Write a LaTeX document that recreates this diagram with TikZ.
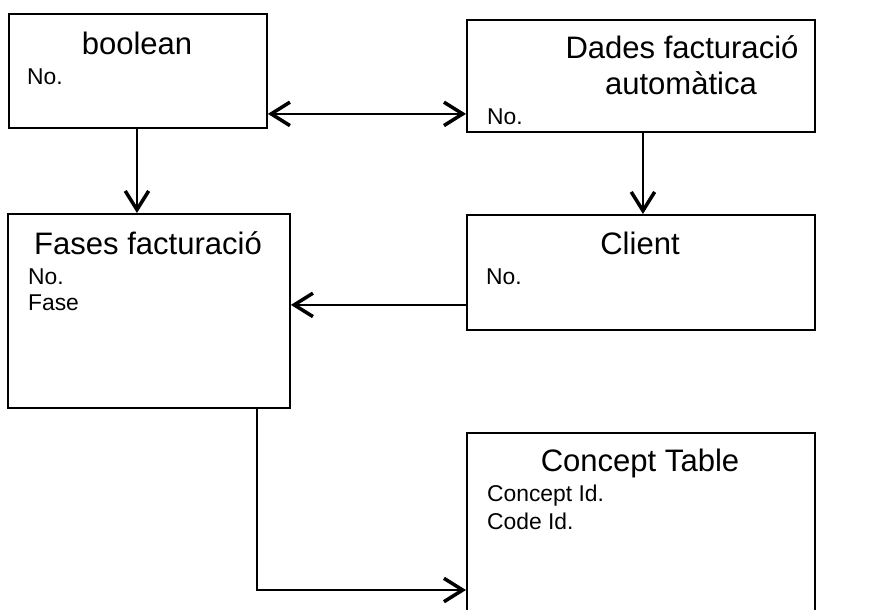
\documentclass[tikz,border=0pt]{standalone}
\usepackage{fontspec}
\setmainfont{Liberation Sans}
\usetikzlibrary{arrows.meta}

\begin{document}
\begin{tikzpicture}[
		x=0.03cm, y=-0.03cm,
		>={Straight Barb[length=16pt, width=20pt, line width=3pt]},
		table/.style={
			draw=black,
			line width=1.6pt,
			anchor=north west,
			inner sep=0pt
		},
		title/.style={
			anchor=base,
			font=\fontsize{26.5}{30}\selectfont
		},
		field/.style={
			anchor=base west,
			font=\fontsize{19.5}{22}\selectfont
		},
		link/.style={
			->,
			line width=1.1pt,
			draw=black
		}
	]
	
	\useasboundingbox (0,0) rectangle (886,609);
	\clip (0,0) rectangle (886,609);
	\fill[white] (0,0) rectangle (886,609);
	
	% Tables
	\node[table, minimum width=7.74cm, minimum height=3.42cm] (bool) at (8,13) {};
	\node[table, minimum width=10.44cm, minimum height=3.36cm] (dades) at (466,19) {};
	\node[table, minimum width=8.46cm, minimum height=5.82cm] (fases) at (7,213) {};
	\node[table, minimum width=10.44cm, minimum height=3.45cm] (client) at (466,214) {};
	\node[table, minimum width=10.44cm, minimum height=6.6cm] (concept) at (466,432) {};
	
	% Titles
	\node[title] (boolT) at (137,54) {boolean};
	\node[title] (dadesT) at (682,58) {Dades facturació};
	\node[title] (dadesT2) at (681,94) {automàtica};
	\node[title] (fasesT) at (148,254) {Fases facturació};
	\node[title] (clientT) at (640,254) {Client};
	\node[title] (conceptT) at (640,471) {Concept Table};
	
	% Fields
	\node[field] (boolNo) at (23,84) {No.};
	\node[field] (dadesNo) at (483,124) {No.};
	\node[field] (fasesNo) at (24,284) {No.};
	\node[field] (fasesFase) at (24,310) {Fase};
	\node[field] (clientNo) at (482,284) {No.};
	\node[field] (conceptId) at (483,501) {Concept Id.};
	\node[field] (codeId) at (483,529) {Code Id.};
	
	% Links
	\draw[link, <->] ([yshift=0.45cm]bool.south east) -- ([yshift=0.45cm]bool.south east -| dades.west);
	\draw[link] ([xshift=-0.03cm]bool.south) -- ([xshift=-0.03cm]bool.south |- fases.north);
	\draw[link] ([xshift=0.06cm]dades.south) -- ([xshift=0.06cm]client.north);
	\draw[link] ([yshift=0.78cm]client.south west) -- ([yshift=0.78cm]client.south west -| fases.east);
	\draw[link] ([xshift=-1.02cm]fases.south east) |- ([yshift=-4.74cm]concept.north west);
	
\end{tikzpicture}
\end{document}
